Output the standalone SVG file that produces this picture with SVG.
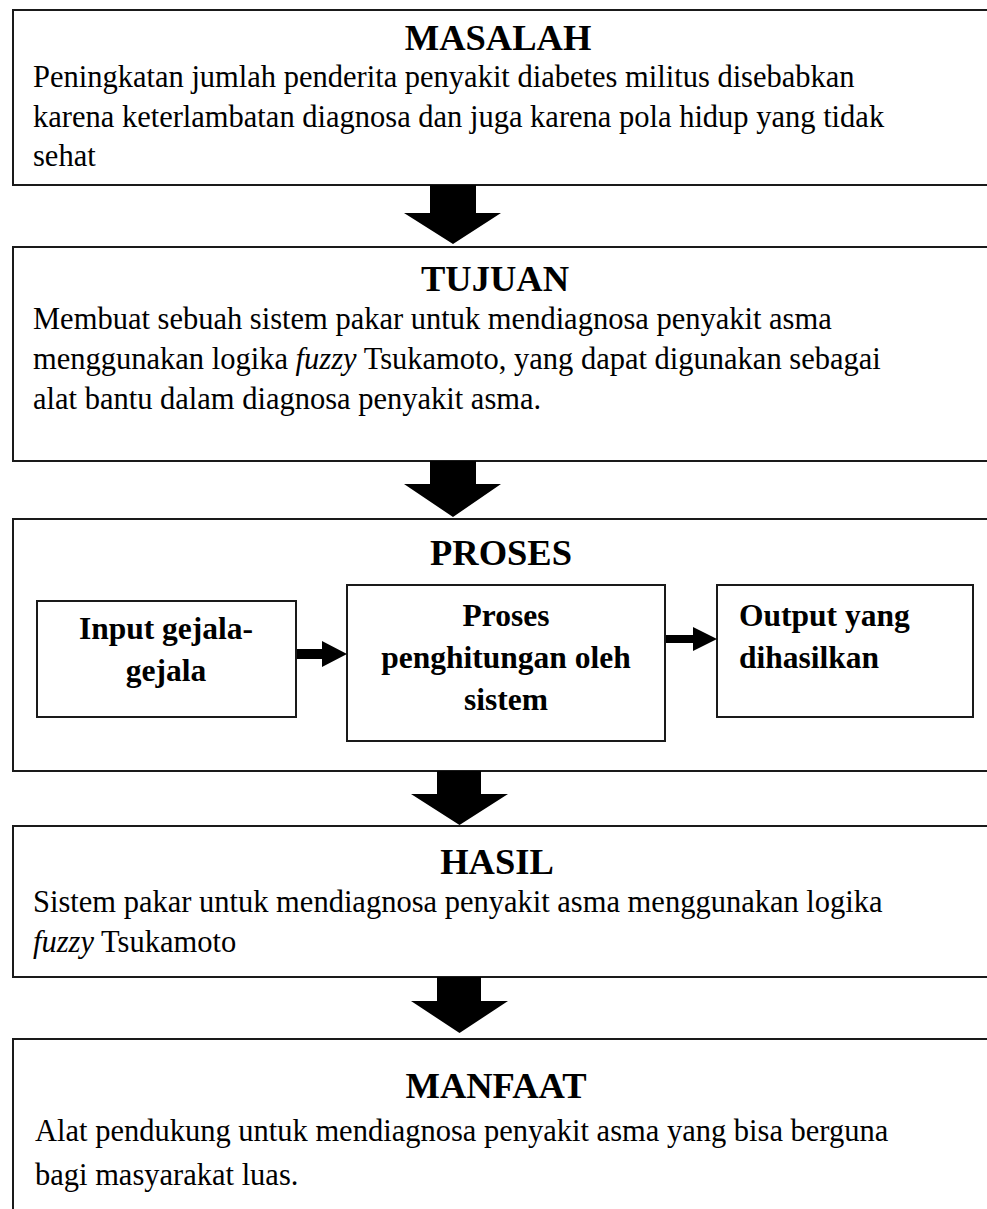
<svg xmlns="http://www.w3.org/2000/svg" width="987" height="1209" viewBox="0 0 987 1209">
<style>
.box{fill:#fff;stroke:#1a1a1a;stroke-width:2}
.title{font-family:"Liberation Serif","Times New Roman",serif;font-weight:bold;font-size:36.5px;text-anchor:middle;fill:#000}
.body{font-family:"Liberation Serif","Times New Roman",serif;font-size:30.5px;fill:#000}
.sub{font-family:"Liberation Serif","Times New Roman",serif;font-weight:bold;font-size:31.5px;fill:#000}
.mid{text-anchor:middle}
.arrow{fill:#000;stroke:none}
</style>
<rect width="987" height="1209" fill="#fff"/>
<g id="masalah">
<rect class="box" x="13" y="10" width="1000" height="175"/>
<text class="title" x="498" y="50">MASALAH</text>
<text class="body" x="33" y="87">Peningkatan jumlah penderita penyakit diabetes militus disebabkan</text>
<text class="body" x="33" y="127">karena keterlambatan diagnosa dan juga karena pola hidup yang tidak</text>
<text class="body" x="33" y="166">sehat</text>
</g>
<g id="tujuan">
<rect class="box" x="13" y="247" width="1000" height="214"/>
<text class="title" x="495" y="291">TUJUAN</text>
<text class="body" x="33" y="329">Membuat sebuah sistem pakar untuk mendiagnosa penyakit asma</text>
<text class="body" x="33" y="369">menggunakan logika <tspan font-style="italic">fuzzy</tspan> Tsukamoto, yang dapat digunakan sebagai</text>
<text class="body" x="33" y="409">alat bantu dalam diagnosa penyakit asma.</text>
</g>
<g id="proses">
<rect class="box" x="13" y="519" width="1000" height="252"/>
<text class="title" x="501" y="565">PROSES</text>
</g>
<g id="input">
<rect class="box" x="37" y="601" width="259" height="116"/>
<text class="sub mid" x="166" y="639">Input gejala-</text>
<text class="sub mid" x="166" y="681">gejala</text>
</g>
<g id="hitung">
<rect class="box" x="347" y="585" width="318" height="156"/>
<text class="sub mid" x="506" y="626">Proses</text>
<text class="sub mid" x="506" y="668">penghitungan oleh</text>
<text class="sub mid" x="506" y="710">sistem</text>
</g>
<g id="output">
<rect class="box" x="717" y="585" width="256" height="132"/>
<text class="sub" x="739" y="626">Output yang</text>
<text class="sub" x="739" y="668">dihasilkan</text>
</g>
<g id="hasil">
<rect class="box" x="13" y="826" width="1000" height="151"/>
<text class="title" x="497" y="874">HASIL</text>
<text class="body" x="33" y="912">Sistem pakar untuk mendiagnosa penyakit asma menggunakan logika</text>
<text class="body" x="33" y="952"><tspan font-style="italic">fuzzy</tspan> Tsukamoto</text>
</g>
<g id="manfaat">
<rect class="box" x="13" y="1039" width="1000" height="200"/>
<text class="title" x="496" y="1098">MANFAAT</text>
<text class="body" x="35" y="1141">Alat pendukung untuk mendiagnosa penyakit asma yang bisa berguna</text>
<text class="body" x="35" y="1185">bagi masyarakat luas.</text>
</g>
<g id="connectors">
<polygon class="arrow" points="430,185 476,185 476,213 501,213 453,244 404,213 430,213"/>
<polygon class="arrow" points="430,461 476,461 476,484 501,484 453,517 404,484 430,484"/>
<polygon class="arrow" points="437,771 481,771 481,794 508,794 459.5,825 411,794 437,794"/>
<polygon class="arrow" points="437,977 481,977 481,1001 508,1001 459.5,1033 411,1001 437,1001"/>
<polygon class="arrow" points="297,649 322,649 322,641 347,654 322,667 322,659 297,659"/>
<polygon class="arrow" points="666,635 693,635 693,627 717,639 693,651 693,643 666,643"/>
</g>
</svg>
